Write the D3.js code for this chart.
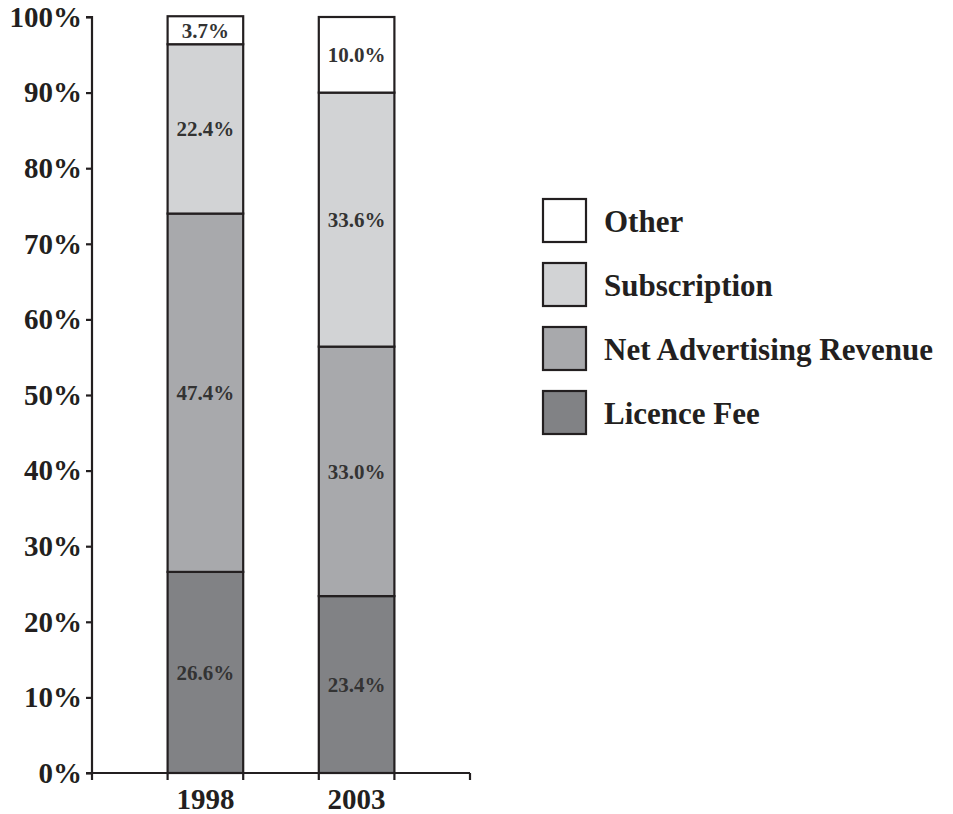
<!DOCTYPE html>
<html>
<head>
<meta charset="utf-8">
<script src="https://cdn.jsdelivr.net/npm/d3@7/dist/d3.min.js"></script>
<style>
  html, body { margin: 0; padding: 0; background: #fff; }
  svg { display: block; }
  text { font-family: "Liberation Serif", "DejaVu Serif", serif; font-weight: bold; fill: #231f20; }
</style>
</head>
<body>
<svg id="chart" width="953" height="814"></svg>
<script>
// Revenue mix by year (percent of total)
const years = ["1998", "2003"];
const seriesNames = ["Licence Fee", "Net Advertising Revenue", "Subscription", "Other"];
const licenceFee = [26.6, 23.4];
const netAdvertising = [47.4, 33.0];
const subscription = [22.4, 33.6];
const other = [3.7, 10.0];
const yTicks = [0, 10, 20, 30, 40, 50, 60, 70, 80, 90, 100];

const colors = {
  "Licence Fee": "#818285",
  "Net Advertising Revenue": "#a8a9ac",
  "Subscription": "#d2d3d5",
  "Other": "#ffffff"
};
const ink = "#231f20";

const rows = years.map((y, i) => ({
  year: y,
  "Licence Fee": licenceFee[i],
  "Net Advertising Revenue": netAdvertising[i],
  "Subscription": subscription[i],
  "Other": other[i]
}));

const svg = d3.select("#chart");
const plotLeft = 92, plotRight = 470, plotTop = 17, plotBottom = 773;

const x = d3.scaleBand().domain(years).range([plotLeft, plotRight]).paddingInner(0.5).paddingOuter(0.5);
const y = d3.scaleLinear().domain([0, 100]).range([plotBottom, plotTop]);

const stacked = d3.stack().keys(seriesNames)(rows);

// Stacked bars
const layers = svg.append("g").selectAll("g")
  .data(stacked).join("g")
  .attr("fill", d => colors[d.key]);

layers.selectAll("rect")
  .data(d => d).join("rect")
  .attr("x", d => x(d.data.year))
  .attr("width", x.bandwidth())
  .attr("y", d => y(d[1]))
  .attr("height", d => y(d[0]) - y(d[1]))
  .attr("stroke", ink)
  .attr("stroke-width", 2.2);

// Value labels centred in each segment
layers.selectAll("text")
  .data(d => d.map(v => ({ v, key: d.key }))).join("text")
  .attr("x", d => x(d.v.data.year) + x.bandwidth() / 2)
  .attr("y", d => y((d.v[0] + d.v[1]) / 2))
  .attr("dy", "0.35em")
  .attr("text-anchor", "middle")
  .style("font-size", "21px")
  .style("fill", "#333")
  .text(d => d.v.data[d.key].toFixed(1) + "%");

// Y axis
const yAxis = svg.append("g")
  .attr("transform", `translate(${plotLeft},0)`)
  .call(d3.axisLeft(y).tickValues(yTicks).tickFormat(d => d + "%").tickSize(6).tickPadding(4));
yAxis.select(".domain").attr("stroke", ink).attr("stroke-width", 2.2).attr("d", `M-6,${plotTop}H0V${plotBottom}`);
yAxis.selectAll(".tick line").attr("stroke", ink).attr("stroke-width", 2.2);
yAxis.selectAll(".tick text")
  .style("font-family", "'Liberation Serif', serif")
  .style("font-size", "29px")
  .style("font-weight", "bold")
  .attr("fill", ink);

// X axis: tick marks at the band edges, labels under the bars
const edges = [plotLeft, ...years.flatMap(v => [x(v), x(v) + x.bandwidth()]), plotRight];
const xAxis = svg.append("g").attr("transform", `translate(0,${plotBottom})`);
xAxis.append("line")
  .attr("x1", plotLeft - 6).attr("x2", plotRight)
  .attr("stroke", ink).attr("stroke-width", 2.2);
xAxis.selectAll("line.tick").data(edges).join("line")
  .attr("class", "tick")
  .attr("x1", d => d).attr("x2", d => d)
  .attr("y1", 0).attr("y2", 7)
  .attr("stroke", ink).attr("stroke-width", 2.2);
xAxis.selectAll("text").data(years).join("text")
  .attr("x", d => x(d) + x.bandwidth() / 2)
  .attr("y", 36)
  .attr("text-anchor", "middle")
  .style("font-size", "29px")
  .text(d => d);

// Legend, top entry first
const legendOrder = seriesNames.slice().reverse();
const legend = svg.append("g").attr("transform", "translate(543,199)");
const item = legend.selectAll("g").data(legendOrder).join("g")
  .attr("transform", (d, i) => `translate(0,${i * 64})`);
item.append("rect")
  .attr("width", 43).attr("height", 43)
  .attr("fill", d => colors[d])
  .attr("stroke", ink).attr("stroke-width", 2.2);
item.append("text")
  .attr("x", 61).attr("y", 22)
  .attr("dy", "0.35em")
  .style("font-size", "31px")
  .text(d => d);
</script>
</body>
</html>
